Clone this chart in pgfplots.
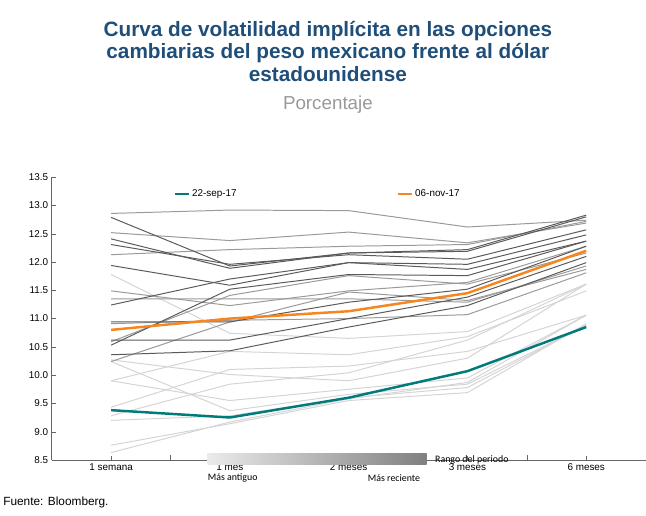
\documentclass[border=0pt]{standalone}
\usepackage{pgfplots}
\pgfplotsset{compat=1.18}
\usepackage{fontspec}
\setmainfont{Liberation Sans}
\newfontfamily\calfont{Carlito}
\definecolor{ttl}{HTML}{1F4E79}
\definecolor{teal}{HTML}{007A7A}
\definecolor{orng}{HTML}{F7861E}
\definecolor{dk}{HTML}{5A5A5A}
\definecolor{md}{HTML}{9A9A9A}
\definecolor{lt}{HTML}{D4D4D4}
\begin{document}
\begin{tikzpicture}[x=1pt,y=1pt]
\path (0,0) rectangle (646,522);
\node[font=\bfseries\fontsize{21}{24}\selectfont, text=ttl, align=center] at (330,470) {Curva de volatilidad implícita en las opciones\\[-1pt]cambiarias del peso mexicano frente al dólar\\[-1pt]estadounidense};
\node[font=\fontsize{19}{22}\selectfont, text=black!40] at (330,416) {Porcentaje};
\begin{axis}[at={(42,99)},anchor=south west,scale only axis,width=601,height=286,
 xmin=-0.5,xmax=4.5,ymin=8.5,ymax=13.5,
 xtick={0,1,2,3,4},xticklabels={1 semana,1 mes,2 meses,3 meses,6 meses},
 ytick={8.5,9,...,13.5},
 yticklabel style={/pgf/number format/.cd,fixed,fixed zerofill,precision=1},
 /pgf/number format/assume math mode=true,
 tick label style={font=\fontsize{10}{12}\selectfont},
 axis x line*=bottom, axis y line*=left,
 axis line style={draw=black!60,line width=0.8pt},
 major tick length=4pt, tick style={draw=black!60},
 xtick pos=bottom, ytick pos=left,
 extra x ticks={0.5,1.5,2.5,3.5}, extra x tick labels={}, extra x tick style={major tick length=5pt},
 legend style={at={(0.2,0.97)},anchor=north west,draw=none,fill=none,legend columns=2,
   font=\fontsize{10}{12}\selectfont,/tikz/every even column/.append style={column sep=160pt}},
 legend image code/.code={\draw[#1,line width=2.5pt] (0,0) -- (0.5cm,0);},
]
\pgfplotsset{every axis plot/.append style={line width=1pt}}
% light
\addplot[lt,forget plot] coordinates {(0,11.78)(1,10.74)(2,10.65)(3,10.77)(4,11.61)};
\addplot[lt,forget plot] coordinates {(0,10.27)(1,10.01)(2,9.9)(3,10.3)(4,11.61)};
\addplot[lt,forget plot] coordinates {(0,9.9)(1,10.42)(2,10.36)(3,10.68)(4,11.49)};
\addplot[lt,forget plot] coordinates {(0,9.9)(1,9.55)(2,9.75)(3,9.95)(4,11.06)};
\addplot[lt,forget plot] coordinates {(0,9.43)(1,10.1)(2,10.16)(3,10.42)(4,11.06)};
\addplot[lt,forget plot] coordinates {(0,9.28)(1,9.84)(2,10.04)(3,10.62)(4,11.61)};
\addplot[lt,forget plot] coordinates {(0,9.2)(1,9.28)(2,9.6)(3,9.78)(4,10.88)};
\addplot[lt,forget plot] coordinates {(0,8.76)(1,9.14)(2,9.55)(3,9.69)(4,10.91)};
\addplot[lt,forget plot] coordinates {(0,8.63)(1,9.17)(2,9.58)(3,9.87)(4,11.06)};
\addplot[lt,forget plot] coordinates {(0,10.24)(1,9.37)(2,9.66)(3,9.84)(4,10.88)};
% medium
\addplot[md,forget plot] coordinates {(0,12.86)(1,12.92)(2,12.91)(3,12.62)(4,12.74)};
\addplot[md,forget plot] coordinates {(0,12.52)(1,12.38)(2,12.53)(3,12.34)(4,12.69)};
\addplot[md,forget plot] coordinates {(0,12.13)(1,12.22)(2,12.28)(3,12.31)(4,12.72)};
\addplot[md,forget plot] coordinates {(0,11.49)(1,11.23)(2,11.49)(3,11.64)(4,12.28)};
\addplot[md,forget plot] coordinates {(0,11.35)(1,11.35)(2,11.35)(3,11.29)(4,11.93)};
\addplot[md,forget plot] coordinates {(0,10.24)(1,10.94)(2,11.47)(3,11.32)(4,11.87)};
\addplot[md,forget plot] coordinates {(0,10.59)(1,11.41)(2,11.76)(3,11.61)(4,12.16)};
\addplot[md,forget plot] coordinates {(0,10.91)(1,10.97)(2,11.0)(3,11.07)(4,11.81)};
% dark
\addplot[dk,forget plot] coordinates {(0,12.79)(1,11.93)(2,12.16)(3,12.22)(4,12.83)};
\addplot[dk,forget plot] coordinates {(0,12.41)(1,11.89)(2,12.16)(3,12.19)(4,12.80)};
\addplot[dk,forget plot] coordinates {(0,12.31)(1,11.96)(2,12.13)(3,12.05)(4,12.57)};
\addplot[dk,forget plot] coordinates {(0,11.94)(1,11.59)(2,11.99)(3,11.87)(4,12.37)};
\addplot[dk,forget plot] coordinates {(0,11.24)(1,11.70)(2,11.99)(3,11.96)(4,12.48)};
\addplot[dk,forget plot] coordinates {(0,10.94)(1,10.94)(2,11.29)(3,11.52)(4,12.28)};
\addplot[dk,forget plot] coordinates {(0,10.62)(1,10.62)(2,11.0)(3,11.38)(4,12.1)};
\addplot[dk,forget plot] coordinates {(0,10.36)(1,10.43)(2,10.85)(3,11.23)(4,11.99)};
\addplot[dk,forget plot] coordinates {(0,10.53)(1,11.52)(2,11.78)(3,11.76)(4,12.37)};
% highlighted
\addplot[teal,line width=2.5pt] coordinates {(0,9.38)(1,9.25)(2,9.6)(3,10.07)(4,10.85)};
\addlegendentry{22-sep-17}
\addplot[orng,line width=2.5pt] coordinates {(0,10.8)(1,11.0)(2,11.13)(3,11.45)(4,12.2)};
\addlegendentry{06-nov-17}
\end{axis}
\shade[left color=black!8,right color=black!50] (208,52) rectangle (430,63);
\node[font=\calfont\fontsize{10}{12}\selectfont,anchor=west] at (435,57) {Rango del periodo};
\node[font=\calfont\fontsize{10}{12}\selectfont,anchor=west] at (205,38) {Más antiguo};
\node[font=\calfont\fontsize{10}{12}\selectfont,anchor=west] at (367,38) {Más reciente};
\node[font=\fontsize{12}{14}\selectfont,anchor=west] at (-2,14) {Fuente: Bloomberg.};
\end{tikzpicture}
\end{document}
